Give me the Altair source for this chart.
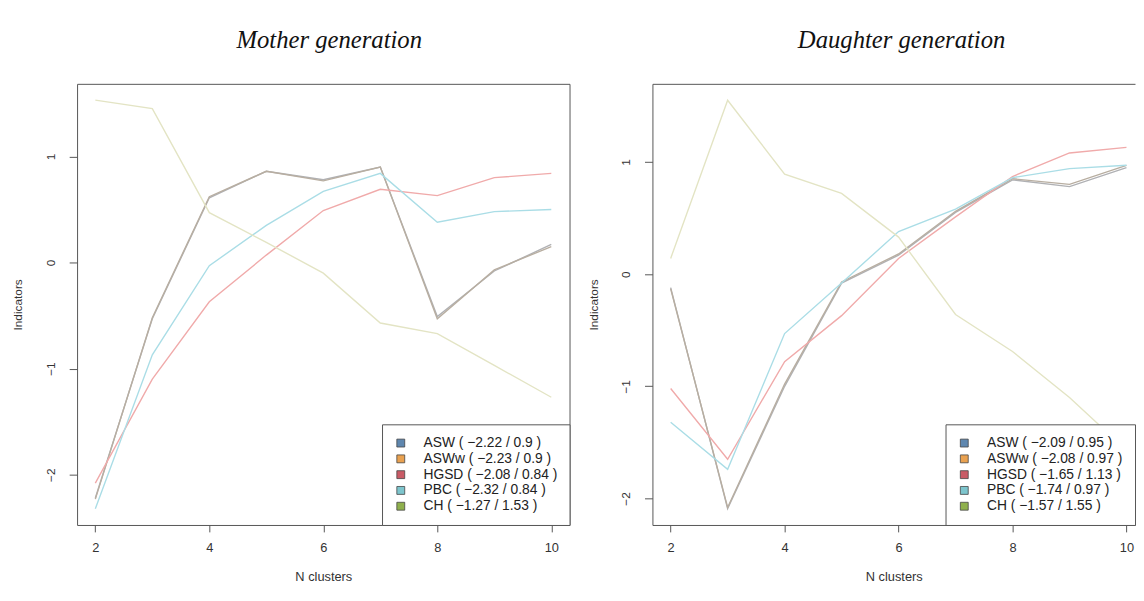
import altair as alt
import pandas as pd

# ---- data ----
clusters = [2, 3, 4, 5, 6, 7, 8, 9, 10]
series = ["ASW", "ASWw", "HGSD", "PBC", "CH"]

mother_asw = [-2.22, -0.53, 0.61, 0.86, 0.78, 0.90, -0.51, -0.08, 0.17]
mother_asww = [-2.23, -0.52, 0.62, 0.86, 0.77, 0.90, -0.53, -0.07, 0.15]
mother_hgsd = [-2.08, -1.10, -0.37, 0.07, 0.49, 0.69, 0.63, 0.80, 0.84]
mother_pbc = [-2.32, -0.87, -0.03, 0.35, 0.67, 0.84, 0.38, 0.48, 0.50]
mother_ch = [1.53, 1.45, 0.47, 0.19, -0.10, -0.57, -0.67, -0.97, -1.27]

daughter_asw = [-0.12, -2.09, -1.00, -0.08, 0.17, 0.55, 0.84, 0.78, 0.95]
daughter_asww = [-0.13, -2.08, -0.98, -0.07, 0.18, 0.56, 0.85, 0.80, 0.97]
daughter_hgsd = [-1.02, -1.65, -0.78, -0.37, 0.14, 0.51, 0.87, 1.08, 1.13]
daughter_pbc = [-1.32, -1.74, -0.53, -0.08, 0.38, 0.58, 0.86, 0.94, 0.97]
daughter_ch = [0.14, 1.55, 0.89, 0.72, 0.33, -0.36, -0.69, -1.10, -1.57]

mother_labels = ["ASW ( −2.22 / 0.9 )", "ASWw ( −2.23 / 0.9 )", "HGSD ( −2.08 / 0.84 )",
                 "PBC ( −2.32 / 0.84 )", "CH ( −1.27 / 1.53 )"]
daughter_labels = ["ASW ( −2.09 / 0.95 )", "ASWw ( −2.08 / 0.97 )", "HGSD ( −1.65 / 1.13 )",
                   "PBC ( −1.74 / 0.97 )", "CH ( −1.57 / 1.55 )"]

x_ticks = [2, 4, 6, 8, 10]
y_ticks = [-2, -1, 0, 1]

line_colors = ["#B0B1B4", "#B8AEA1", "#F0AAAA", "#AADDE6", "#E3E4C4"]
line_widths = [1.4, 1.4, 1.1, 1.1, 1.1]
legend_colors = ["#5F87AF", "#E9A150", "#C95B66", "#7DC5CD", "#8FB04D"]

FONT = "Liberation Sans"


def long_frame(values, labels):
    rows = []
    for s, lab, vals in zip(series, labels, values):
        for k, v in zip(clusters, vals):
            rows.append({"k": k, "series": s, "label": lab, "v": v})
    return pd.DataFrame(rows)


def panel(df, labels, xdom, ydom, width, height, title, title_dx, right_border):
    xs = alt.Scale(domain=xdom, nice=False, zero=False)
    ys = alt.Scale(domain=ydom, nice=False, zero=False)
    lines = alt.Chart(df).mark_line(clip=True).encode(
        x=alt.X("k:Q", scale=xs,
                axis=alt.Axis(orient="bottom", values=x_ticks, format="d", title="N clusters",
                              tickSize=7, labelPadding=10, titlePadding=16,
                              labelFontSize=13, titleFontSize=13)),
        y=alt.Y("v:Q", scale=ys,
                axis=alt.Axis(orient="left", values=y_ticks, format="d", title="Indicators",
                              labelAngle=-90, labelAlign="center", labelBaseline="bottom",
                              tickSize=8, labelPadding=12, titlePadding=20)),
        color=alt.Color("series:N", scale=alt.Scale(domain=series, range=line_colors), legend=None),
        strokeWidth=alt.StrokeWidth("series:N", scale=alt.Scale(domain=series, range=line_widths),
                                    legend=None),
    )
    if right_border:
        y2 = alt.Y("v:Q", scale=ys, axis=alt.Axis(orient="right", labels=False, ticks=False,
                                                   title=None, grid=False))
    else:
        y2 = alt.Y("v:Q", scale=ys, axis=None)
    frame = alt.Chart(df).transform_filter("false").mark_point(
        shape="square", filled=True, opacity=1, stroke="#444", strokeWidth=0.8
    ).encode(
        x=alt.X("k:Q", scale=xs, axis=alt.Axis(orient="top", labels=False, ticks=False,
                                                title=None, grid=False)),
        y=y2,
        fill=alt.Fill("label:N", scale=alt.Scale(domain=labels, range=legend_colors),
                      legend=alt.Legend(title=None, orient="bottom-right", offset=0,
                                        symbolType="square", symbolSize=64,
                                        symbolStrokeColor="#444", symbolStrokeWidth=0.8,
                                        labelFont=FONT, labelFontSize=14, labelColor="#222",
                                        labelOffset=16, padding=12, rowPadding=2,
                                        strokeColor="#555", fillColor="white")),
    )
    return alt.layer(lines, frame).resolve_axis(x="independent", y="independent").properties(
        width=width, height=height,
        title=alt.TitleParams(text=title, font="Liberation Serif", fontStyle="italic", fontSize=25,
                              fontWeight="normal", color="#111", anchor="middle", frame="group",
                              dx=title_dx, offset=31),
    )


mother_df = long_frame([mother_asw, mother_asww, mother_hgsd, mother_pbc, mother_ch], mother_labels)
daughter_df = long_frame([daughter_asw, daughter_asww, daughter_hgsd, daughter_pbc, daughter_ch],
                         daughter_labels)

left = panel(mother_df, mother_labels, [1.68, 10.32], [-2.474, 1.684], 499, 447,
             "Mother generation", 6, True)
right = panel(daughter_df, daughter_labels, [1.68, 10.15], [-2.236, 1.696], 489, 447,
              "Daughter generation", 8, False)

chart = alt.hconcat(left, right, spacing=16).resolve_scale(
    x="independent", y="independent", color="independent", fill="independent",
    strokeWidth="independent"
).resolve_legend(fill="independent").properties(
    padding={"left": 3, "top": 16, "right": 0, "bottom": 0},
    background="white",
).configure_view(stroke="transparent").configure_axis(
    grid=False, domainColor="#555", tickColor="#555", domainWidth=1, tickWidth=1,
    labelFont=FONT, labelFontSize=12, labelColor="#333",
    titleFont=FONT, titleFontSize=12, titleFontWeight="normal", titleColor="#333"
)

chart.save("out.html", embed_options={"renderer": "svg", "actions": False})
